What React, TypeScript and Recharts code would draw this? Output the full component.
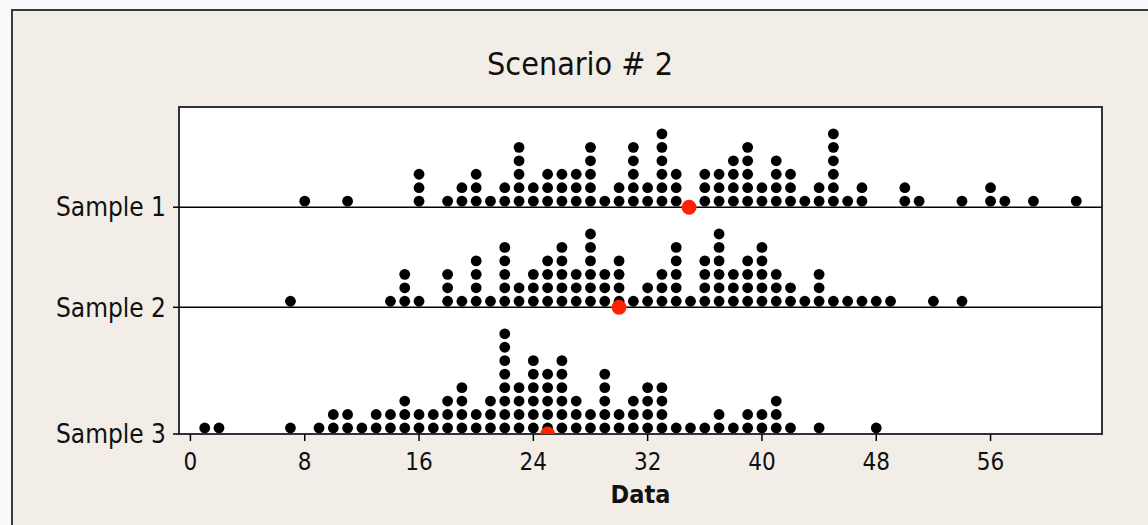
import React from "react"
import {
  ScatterChart,
  Scatter,
  XAxis,
  YAxis,
  CartesianGrid,
  ReferenceArea,
  ReferenceLine,
} from "recharts"

// dot columns: data value -> number of stacked dots
const sample1Values = [8, 11, 16, 18, 19, 20, 21, 22, 23, 24, 25, 26, 27, 28, 29, 30, 31, 32, 33, 34, 36, 37, 38, 39, 40, 41, 42, 43, 44, 45, 46, 47, 50, 51, 54, 56, 57, 59, 62]
const sample1Counts = [1, 1, 3, 1, 2, 3, 1, 2, 5, 2, 3, 3, 3, 5, 1, 2, 5, 2, 6, 3, 3, 3, 4, 5, 2, 4, 3, 1, 2, 6, 1, 2, 2, 1, 1, 2, 1, 1, 1]

const sample2Values = [7, 14, 15, 16, 18, 19, 20, 21, 22, 23, 24, 25, 26, 27, 28, 29, 30, 31, 32, 33, 34, 35, 36, 37, 38, 39, 40, 41, 42, 43, 44, 45, 46, 47, 48, 49, 52, 54]
const sample2Counts = [1, 1, 3, 1, 3, 1, 4, 1, 5, 2, 3, 4, 5, 3, 6, 3, 4, 1, 2, 3, 5, 1, 4, 6, 3, 4, 5, 3, 2, 1, 3, 1, 1, 1, 1, 1, 1, 1]

const sample3Values = [1, 2, 7, 9, 10, 11, 12, 13, 14, 15, 16, 17, 18, 19, 20, 21, 22, 23, 24, 25, 26, 27, 28, 29, 30, 31, 32, 33, 34, 35, 36, 37, 38, 39, 40, 41, 42, 44, 48]
const sample3Counts = [1, 1, 1, 1, 2, 2, 1, 2, 2, 3, 2, 2, 3, 4, 2, 3, 8, 4, 6, 5, 6, 3, 2, 5, 2, 3, 4, 4, 1, 1, 1, 2, 1, 2, 2, 3, 1, 1, 1]

const sampleNames = ["Sample 1", "Sample 2", "Sample 3"]
const sampleMeans = [34.9, 30, 25]
const xTicks = [0, 8, 16, 24, 32, 40, 48, 56]

// layout: one y unit = one dot height
const ROW_BASE = [16.86, 9.42, 0]
const DOT_OFFSET = 0.45
const Y_TOP = 24.31
const X_MIN = -0.8
const X_MAX = 63.8

const FONT = "'DejaVu Sans Condensed', 'DejaVu Sans', sans-serif"

const samples = [
  { values: sample1Values, counts: sample1Counts },
  { values: sample2Values, counts: sample2Counts },
  { values: sample3Values, counts: sample3Counts },
]

const dots: { x: number; y: number }[] = []
samples.forEach((s, i) => {
  s.values.forEach((v, j) => {
    for (let k = 0; k < s.counts[j]; k++) {
      dots.push({ x: v, y: ROW_BASE[i] + DOT_OFFSET + k })
    }
  })
})

const means = sampleMeans.map((m, i) => ({ x: m, y: ROW_BASE[i] }))

const BlackDot = (props: any) => <circle cx={props.cx} cy={props.cy} r={5.4} fill="#000" />
const RedDot = (props: any) => <circle cx={props.cx} cy={props.cy} r={7.5} fill="#FF2200" />

export default function App() {
  return (
    <div style={{ position: "fixed", left: 0, top: 0, width: 1148, height: 525, overflow: "hidden", background: "#fafafa" }}>
      <div
        style={{
          position: "absolute",
          left: 11,
          top: 9,
          width: 1160,
          height: 540,
          border: "2px solid #3a3a3a",
          background: "#F2EEE7",
        }}
      />
      <div
        style={{
          position: "absolute",
          left: 380,
          top: 48,
          width: 400,
          textAlign: "center",
          fontFamily: FONT,
          fontSize: 32,
          lineHeight: "32px",
          color: "#111",
        }}
      >
        Scenario # 2
      </div>
      <div style={{ position: "absolute", left: 0, top: 0 }}>
        <ScatterChart width={1148} height={525} margin={{ top: 107, right: 46, bottom: 0, left: 0 }}>
          <CartesianGrid horizontal={false} vertical={false} fill="#fff" />
          <XAxis
            type="number"
            dataKey="x"
            domain={[X_MIN, X_MAX]}
            ticks={xTicks}
            allowDataOverflow
            height={91}
            axisLine={false}
            tickLine={{ stroke: "#000", strokeWidth: 1.5 }}
            tickSize={7}
            tickMargin={12}
            tick={{ fill: "#111", fontSize: 24, fontFamily: FONT }}
            label={{
              value: "Data",
              position: "insideBottom",
              offset: 22,
              style: { fill: "#111", fontSize: 25, fontWeight: "bold", fontFamily: FONT },
            }}
          />
          <YAxis
            type="number"
            dataKey="y"
            domain={[0, Y_TOP]}
            ticks={ROW_BASE}
            allowDataOverflow
            width={179}
            axisLine={false}
            tickLine={{ stroke: "#000", strokeWidth: 1.5 }}
            tickSize={6}
            tickMargin={7}
            tickFormatter={(v: number) => sampleNames[ROW_BASE.indexOf(v)] ?? ""}
            tick={{ fill: "#111", fontSize: 26, fontFamily: FONT }}
          />
          <ReferenceLine y={ROW_BASE[0]} stroke="#000" strokeWidth={1.5} />
          <ReferenceLine y={ROW_BASE[1]} stroke="#000" strokeWidth={1.5} />
          <Scatter data={dots} shape={BlackDot} isAnimationActive={false} />
          <Scatter data={means} shape={RedDot} isAnimationActive={false} />
          <ReferenceArea x1={X_MIN} x2={X_MAX} y1={0} y2={Y_TOP} fill="none" stroke="#333" strokeWidth={2} />
        </ScatterChart>
      </div>
    </div>
  )
}
